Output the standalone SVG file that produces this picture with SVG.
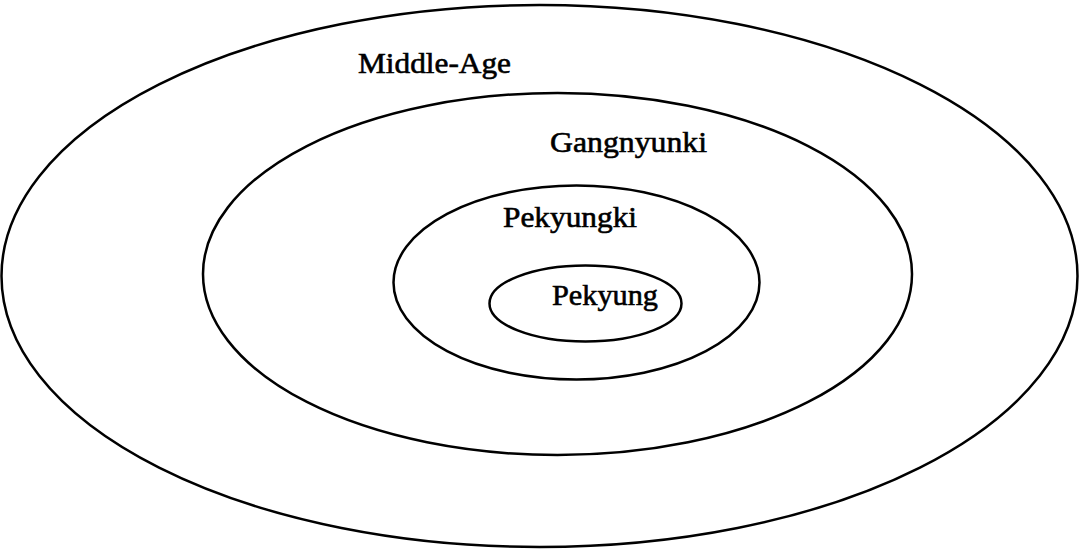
<svg xmlns="http://www.w3.org/2000/svg" width="1079" height="550" viewBox="0 0 1079 550">
<style>
.ring{fill:none;stroke:#000;stroke-width:2.5}
.lbl{font-family:"Liberation Serif","Times New Roman",serif;font-size:30px;fill:#000;stroke:#000;stroke-width:0.6}
</style>
<rect width="1079" height="550" fill="#fff"/>
<g id="middle-age"><ellipse class="ring" cx="539.5" cy="276" rx="538" ry="271"/><text class="lbl" x="358" y="73" textLength="153" lengthAdjust="spacingAndGlyphs">Middle-Age</text></g>
<g id="gangnyunki"><ellipse class="ring" cx="557.5" cy="274" rx="354.5" ry="181"/><text class="lbl" x="550" y="152" textLength="157" lengthAdjust="spacingAndGlyphs">Gangnyunki</text></g>
<g id="pekyungki"><ellipse class="ring" cx="576.5" cy="282.5" rx="183" ry="97"/><text class="lbl" x="503" y="227" textLength="134" lengthAdjust="spacingAndGlyphs">Pekyungki</text></g>
<g id="pekyung"><ellipse class="ring" cx="585.5" cy="303.5" rx="96" ry="38"/><text class="lbl" x="552" y="305" textLength="106" lengthAdjust="spacingAndGlyphs">Pekyung</text></g>
<g id="connectors"/>
</svg>
